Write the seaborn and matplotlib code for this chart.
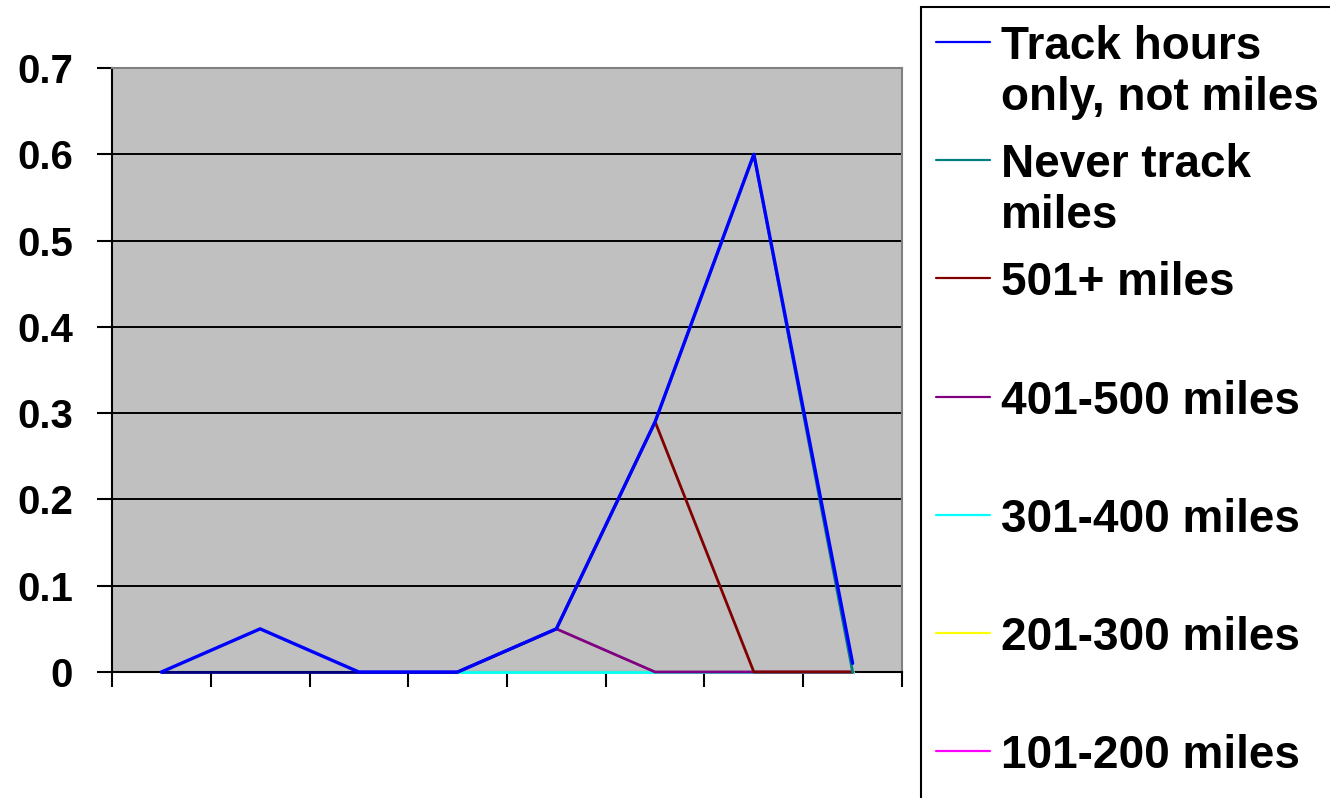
import numpy as np
import pandas as pd
import matplotlib
matplotlib.use("Agg")
import matplotlib.pyplot as plt
from matplotlib.lines import Line2D
from matplotlib.patches import Rectangle
import seaborn as sns

sns.set_theme(style="white")
plt.rcParams["font.family"] = ["Liberation Sans", "DejaVu Sans"]
plt.rcParams["font.weight"] = "bold"
plt.rcParams["text.color"] = "black"
plt.rcParams["xtick.color"] = "black"
plt.rcParams["ytick.color"] = "black"

# Eight groups along the x axis (unlabelled)
positions = [0, 1, 2, 3, 4, 5, 6, 7]

# Series, in stacking order (bottom first); None = no value
series_names = [
    "1-100 miles",
    "101-200 miles",
    "201-300 miles",
    "301-400 miles",
    "401-500 miles",
    "501+ miles",
    "Never track miles",
    "Track hours only, not miles",
]
s_1_100 = [0, 0, 0, 0, 0, 0, 0, 0]
s_101_200 = [None, None, None, 0, 0, 0, 0, 0]
s_201_300 = [None, None, None, 0, 0, 0, 0, 0]
s_301_400 = [None, None, None, 0, 0, 0, 0, 0]
s_401_500 = [None, None, None, 0, 0.05, 0, 0, 0]
s_501_plus = [None, None, None, 0, 0, 0.29, 0, 0]
s_never = [None, None, None, 0, 0, 0, 0.6, 0]
s_hours = [0, 0.05, 0, 0, 0, 0, 0, 0.01]
series_values = [s_1_100, s_101_200, s_201_300, s_301_400,
                 s_401_500, s_501_plus, s_never, s_hours]

colors = ["#000080", "#FF00FF", "#FFFF00", "#00FFFF",
          "#800080", "#800000", "#008080", "#0000FF"]
widths = [2.0, 2.0, 2.0, 2.0, 2.0, 2.0, 2.0, 2.4]

# Stacked (cumulative) values in long form
rows = []
running = np.zeros(len(positions))
for name, vals in zip(series_names, series_values):
    arr = np.array([np.nan if v is None else v for v in vals], dtype=float)
    running = running + np.nan_to_num(arr)
    for p, raw, cum in zip(positions, arr, running):
        rows.append({"series": name, "pos": p,
                     "value": np.nan if np.isnan(raw) else cum})
df = pd.DataFrame(rows)

W, H = 1330, 798
fig = plt.figure(figsize=(W / 100, H / 100), dpi=100)
fig.patch.set_facecolor("white")

def fx(px):
    return px / W

def fy(py):
    return 1 - py / H

ax = fig.add_axes([fx(112), fy(672), fx(902) - fx(112), fy(68) - fy(672)])
ax.set_facecolor("#C0C0C0")

for name, col, lw in zip(series_names, colors, widths):
    sub = df[(df["series"] == name)].dropna()
    sns.lineplot(data=sub, x="pos", y="value", color=col, linewidth=lw,
                 estimator=None, sort=False, ax=ax, legend=False)
for line in ax.lines:
    line.set_clip_on(False)
    line.set_zorder(3)

ax.set_xlim(-0.5, 7.5)
ax.set_ylim(0, 0.7)
yticks = [0, 0.1, 0.2, 0.3, 0.4, 0.5, 0.6, 0.7]
ytick_labels = ["0", "0.1", "0.2", "0.3", "0.4", "0.5", "0.6", "0.7"]
ax.set_yticks(yticks)
ax.set_yticklabels(ytick_labels, fontsize=29, fontweight="bold", color="black")
ax.set_xticks(np.arange(-0.5, 8, 1.0))
ax.set_xticklabels([])
ax.set_xlabel("")
ax.set_ylabel("")

ax.yaxis.grid(True, color="black", linewidth=1.4)
ax.xaxis.grid(False)
ax.set_axisbelow(True)

ax.tick_params(axis="y", direction="out", length=11, width=1.5,
               color="black", pad=17, left=True)
ax.tick_params(axis="x", direction="out", length=11, width=1.5,
               color="black", bottom=True)

for side in ["left", "bottom"]:
    ax.spines[side].set_color("black")
    ax.spines[side].set_linewidth(1.5)
for side in ["top", "right"]:
    ax.spines[side].set_color("#808080")
    ax.spines[side].set_linewidth(1.5)

# Legend panel on the right
fig.add_artist(Rectangle((fx(921), fy(810)), fx(1345) - fx(921), fy(7) - fy(810),
                         transform=fig.transFigure, facecolor="white",
                         edgecolor="black", linewidth=1.5, clip_on=False))

legend_labels = [
    "Track hours\nonly, not miles",
    "Never track\nmiles",
    "501+ miles",
    "401-500 miles",
    "301-400 miles",
    "201-300 miles",
    "101-200 miles",
]
legend_colors = ["#0000FF", "#008080", "#800000", "#800080",
                 "#00FFFF", "#FFFF00", "#FF00FF"]
entry_y0, entry_step, line_gap = 42, 118.2, 51
for i, (lab, col) in enumerate(zip(legend_labels, legend_colors)):
    y = entry_y0 + i * entry_step
    fig.add_artist(Line2D([fx(936), fx(990)], [fy(y), fy(y)], color=col,
                          linewidth=1.6, transform=fig.transFigure))
    for k, part in enumerate(lab.split("\n")):
        fig.text(fx(1001), fy(y + 17 + k * line_gap), part, fontsize=33,
                 fontweight="bold", ha="left", va="baseline", color="black")

fig.savefig("out.png", dpi=100)
